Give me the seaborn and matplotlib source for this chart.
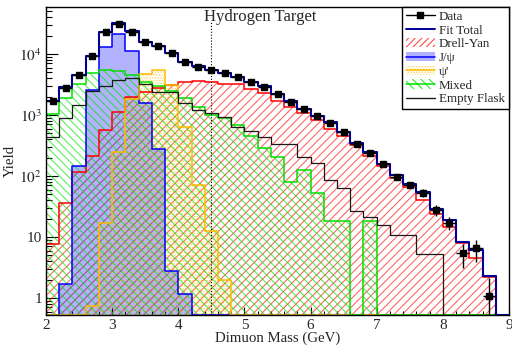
import numpy as np
import pandas as pd
import matplotlib
matplotlib.use("Agg")
import matplotlib.pyplot as plt
import seaborn as sns
from matplotlib.patches import Patch
from matplotlib.lines import Line2D
from matplotlib.ticker import MultipleLocator, FuncFormatter, LogLocator, NullFormatter

# 35 bins of 0.2 GeV between 2 and 9 GeV
edges = np.linspace(2.0, 9.0, 36)
centers = 0.5 * (edges[1:] + edges[:-1])

data = [1700, 2800, 4530, 9380, 22700, 31000, 23200, 15900, 13700, 10200,
        7300, 6200, 5500, 4850, 4250, 3500, 2900, 2200, 1650, 1240,
        970, 750, 520, 335, 235, 155, 95, 71, 53, 27.7,
        17, 5.4, 6.5, 1.08, 0]
fit_total = [1700, 2840, 4530, 9300, 22700, 32000, 23500, 15900, 13700, 10200,
             7400, 6300, 5500, 4850, 4250, 3500, 2950, 2250, 1700, 1270,
             980, 760, 530, 345, 245, 160, 103, 74, 54, 29,
             19, 8.4, 6.1, 2.3, 0]
drell_yan = [7.7, 36, 118, 215, 570, 1100, 2000, 2400, 2800, 3100,
             3440, 3640, 3440, 3200, 3200, 2650, 2300, 1700, 1370, 1060,
             830, 600, 450, 322, 213, 146, 91, 65, 40, 23.5,
             14.4, 7.9, 4.5, 2.2, 0]
jpsi = [0, 1.68, 146, 2570, 13200, 21000, 11000, 1590, 274, 2.8,
        1.16, 0, 0, 0, 0, 0, 0, 0, 0, 0,
        0, 0, 0, 0, 0, 0, 0, 0, 0, 0,
        0, 0, 0, 0, 0]
psi_prime = [0, 0, 0, 0.74, 17, 250, 1830, 4700, 5500, 3050,
             645, 71, 12.5, 2, 0, 0, 0, 0, 0, 0,
             0, 0, 0, 0, 0, 0, 0, 0, 0, 0,
             0, 0, 0, 0, 0]
mixed = [1040, 1900, 3200, 4800, 5500, 5350, 4500, 3500, 3000, 2500,
         1900, 1370, 1000, 890, 690, 450, 285, 207, 80, 126,
         53, 18, 18, 0, 18, 0, 0, 0, 0, 0,
         0, 0, 0, 0, 0]
empty_flask = [440, 880, 1450, 2460, 3000, 3700, 4000, 3200, 2420, 2420,
               1600, 1210, 1090, 940, 645, 550, 430, 335, 335, 203,
               165, 86, 63, 26.6, 21, 15.7, 10.8, 10.8, 5.3, 5.3,
               0, 0, 0, 0, 0]

y_min, y_max = 0.526, 5.9e4

c_dy = '#ff0000'
c_jpsi = '#0000ff'
c_psip = '#ffbb00'
c_mix = '#00e000'
c_ef = '#1a1a1a'
c_fit = '#000099'

sns.set_theme(style='ticks')
plt.rcParams['font.family'] = ['Liberation Serif', 'DejaVu Serif']
plt.rcParams['mathtext.fontset'] = 'stix'
plt.rcParams['hatch.linewidth'] = 0.8


def step_df(vals):
    # empty bins sit on the bottom of the frame, like in ROOT
    v = np.maximum(np.append(vals, vals[-1]), y_min)
    return pd.DataFrame({'mass': edges, 'yield': v})


def draw_hist(ax, vals, color, lw, fill=None, hatch=None, hatch_col=None):
    df = step_df(vals)
    if fill is not None or hatch is not None:
        ax.fill_between(df['mass'], y_min, df['yield'], step='post',
                        facecolor=fill if fill is not None else 'none',
                        edgecolor=hatch_col if hatch_col is not None else 'none',
                        hatch=hatch, linewidth=0)
    sns.lineplot(data=df, x='mass', y='yield', drawstyle='steps-post',
                 color=color, lw=lw, ax=ax, estimator=None, sort=False)


fig = plt.figure(figsize=(5.12, 3.45), dpi=100)
ax = fig.add_axes([46 / 512, 30 / 345, 463 / 512, 308 / 345])

draw_hist(ax, drell_yan, c_dy, 1.1, hatch='////', hatch_col=(1, 0, 0, 0.6))
draw_hist(ax, jpsi, c_jpsi, 1.1, fill=(0, 0, 1, 0.3))
draw_hist(ax, psi_prime, c_psip, 1.1, hatch='......', hatch_col=(1, 0.75, 0, 0.55))
draw_hist(ax, mixed, c_mix, 1.1, hatch='\\\\\\\\', hatch_col=(0, 0.9, 0, 0.65))
draw_hist(ax, empty_flask, c_ef, 0.9)
draw_hist(ax, fit_total, c_fit, 1.5)

d = np.array(data, dtype=float)
m = d > 0
ax.errorbar(centers[m], d[m], xerr=0.1, yerr=np.sqrt(d[m]), fmt='s',
            color='black', ms=5, elinewidth=1, capsize=0, zorder=5)

ax.axvline(4.5, ymin=0, ymax=0.955, color='black', ls=':', lw=0.8)
ax.text(0.463, 0.953, 'Hydrogen Target', transform=ax.transAxes,
        ha='center', va='baseline', fontsize=12)

ax.set_yscale('log')
ax.set_xlim(2, 9)
ax.set_ylim(y_min, y_max)
ax.set_xticks(range(2, 10))
ax.xaxis.set_minor_locator(MultipleLocator(0.2))
ax.yaxis.set_major_locator(LogLocator(base=10, numticks=10))
ax.yaxis.set_minor_locator(LogLocator(base=10, subs=np.arange(2, 10), numticks=20))
ax.yaxis.set_minor_formatter(NullFormatter())


def ylab(v, pos):
    n = int(round(np.log10(v)))
    if n == 0:
        return '1'
    if n == 1:
        return '10'
    return '$10^{%d}$' % n


ax.yaxis.set_major_formatter(FuncFormatter(ylab))
ax.tick_params(which='both', direction='in', top=False, right=False,
               labelsize=11, color='black', width=0.8)
ax.tick_params(axis='y', which='major', length=8.5, pad=3)
ax.tick_params(axis='y', which='minor', length=4.5)
ax.tick_params(axis='x', which='major', length=6, pad=3)
ax.tick_params(axis='x', which='minor', length=3)
for s in ax.spines.values():
    s.set_color('black')
    s.set_linewidth(1)

ax.set_xlabel('Dimuon Mass (GeV)', fontsize=10.7)
ax.set_ylabel('Yield', fontsize=10.7)
ax.xaxis.set_label_coords(0.5, -0.052)
ax.yaxis.set_label_coords(-0.062, 0.5)

handles = [
    Line2D([], [], color='black', marker='s', ms=5, lw=1),
    Line2D([], [], color=c_fit, lw=1.4),
    Patch(facecolor='none', edgecolor=(1, 0, 0, 0.7), hatch='/////', lw=0),
    (Patch(facecolor=(0, 0, 1, 0.3), edgecolor='none'), Line2D([], [], color=c_jpsi, lw=1.1)),
    (Patch(facecolor='none', edgecolor=(1, 0.75, 0, 0.6), hatch='......', lw=0), Line2D([], [], color=c_psip, lw=1.1)),
    (Patch(facecolor='none', edgecolor=(0, 0.9, 0, 0.8), hatch='\\\\\\\\', lw=0), Line2D([], [], color=c_mix, lw=1.1)),
    Line2D([], [], color=c_ef, lw=1),
]
labels = ['Data', 'Fit Total', 'Drell-Yan', 'J/\u03c8', '\u03c8\'', 'Mixed', 'Empty Flask']
leg = ax.legend(handles, labels, loc='upper right', bbox_to_anchor=(1, 1),
                borderaxespad=0, frameon=True, fancybox=False, edgecolor='black',
                framealpha=1, fontsize=9.4, labelspacing=0.12, handlelength=2.2,
                handletextpad=0.35, borderpad=0.3)
leg.get_frame().set_linewidth(1)

fig.savefig('out.png', dpi=100)
